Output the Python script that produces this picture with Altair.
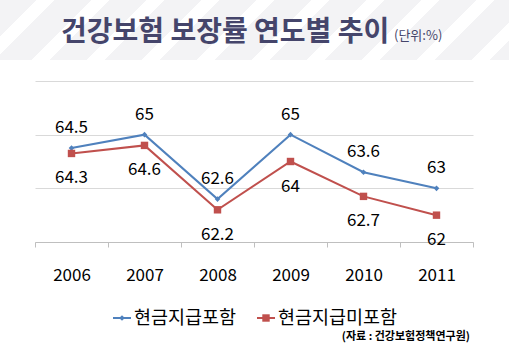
import altair as alt
import pandas as pd

years = ["2006", "2007", "2008", "2009", "2010", "2011"]
incl_cash = [64.5, 65, 62.6, 65, 63.6, 63]
excl_cash = [64.3, 64.6, 62.2, 64, 62.7, 62]
series_names = ["현금지급포함", "현금지급미포함"]
title_text = "건강보험 보장률 연도별 추이"
unit_text = "(단위:%)"
source_text = "(자료 : 건강보험정책연구원)"

FONT = "Noto Sans CJK KR"
BLUE = "#4f81bd"
RED = "#c0504d"

rows = []
for y, a, b in zip(years, incl_cash, excl_cash):
    rows.append({"year": y, "series": series_names[0], "value": a})
    rows.append({"year": y, "series": series_names[1], "value": b})
df = pd.DataFrame(rows)

W, H = 438, 161
PL, PT = 35, 81

x_enc = alt.X("year:N", sort=years, title=None,
              scale=alt.Scale(paddingInner=0, paddingOuter=0),
              axis=alt.Axis(labelAngle=0, labelFontSize=17, labelFont=FONT,
                            labelColor="#000000", labelPadding=20,
                            tickBand="extent", tickSize=5, tickColor="#bfbfbf",
                            domainColor="#bfbfbf", grid=False))
y_enc = alt.Y("value:Q", title=None,
              scale=alt.Scale(domain=[61, 67], nice=False, zero=False),
              axis=alt.Axis(values=[61, 63, 65, 67], labels=False, ticks=False,
                            domain=False, grid=True, gridColor="#d9d9d9"))
color_scale = alt.Scale(domain=series_names, range=[BLUE, RED])
shape_scale = alt.Scale(domain=series_names, range=["diamond", "square"])
size_scale = alt.Scale(domain=series_names, range=[32, 55])

base = alt.Chart(df)

lines = base.mark_line(strokeWidth=2).encode(
    x=x_enc, y=y_enc,
    color=alt.Color("series:N", scale=color_scale, legend=None),
)

points = base.mark_point(filled=True, opacity=1).encode(
    x=x_enc, y=y_enc,
    color=alt.Color("series:N", scale=color_scale, legend=None),
    shape=alt.Shape("series:N", scale=shape_scale, legend=None),
    size=alt.Size("series:N", scale=size_scale, legend=None),
)

lbl_top = base.transform_filter(alt.datum.series == series_names[0]).mark_text(
    fontSize=17, font=FONT, color="#000000", dy=-20, baseline="middle"
).encode(x=x_enc, y=y_enc, text=alt.Text("value:Q"))

lbl_bot = base.transform_filter(alt.datum.series == series_names[1]).mark_text(
    fontSize=17, font=FONT, color="#000000", dy=25, baseline="middle"
).encode(x=x_enc, y=y_enc, text=alt.Text("value:Q"))

# legend (built from the series names; layout offsets computed here)
leg_start = [113 - PL, 257 - PL]
leg_df = pd.DataFrame({
    "series": series_names,
    "x0": leg_start,
    "x1": [s + 18 for s in leg_start],
    "xm": [s + 9 for s in leg_start],
    "xt": [s + 21 for s in leg_start],
})
leg_y = alt.value(318 - PT)
leg_base = alt.Chart(leg_df)
leg_lines = leg_base.mark_rule(strokeWidth=2).encode(
    x=alt.X("x0:Q", scale=None), x2="x1:Q", y=leg_y,
    color=alt.Color("series:N", scale=color_scale, legend=None),
)
leg_pts = leg_base.mark_point(filled=True, opacity=1).encode(
    x=alt.X("xm:Q", scale=None), y=leg_y,
    color=alt.Color("series:N", scale=color_scale, legend=None),
    shape=alt.Shape("series:N", scale=shape_scale, legend=None),
    size=alt.Size("series:N", scale=size_scale, legend=None),
)
leg_txt = leg_base.mark_text(
    fontSize=18.5, font=FONT, color="#000000", align="left", baseline="middle"
).encode(x=alt.X("xt:Q", scale=None), y=leg_y, text="series:N")

# decorative striped title band
period = 55.0
span = 593.5
stops = []
o = 0.0
while o < 1.0:
    stops.append(alt.GradientStop(offset=min(o, 1), color="#f3f3f5"))
    stops.append(alt.GradientStop(offset=min(o + 37 / span, 1), color="#f3f3f5"))
    stops.append(alt.GradientStop(offset=min(o + 37 / span, 1), color="#ffffff"))
    stops.append(alt.GradientStop(offset=min(o + period / span, 1), color="#ffffff"))
    o += period / span

one = pd.DataFrame({"k": [0]})
band = alt.Chart(one).mark_rect(
    fill=alt.LinearGradient(gradient="linear", stops=stops,
                            x1=0, y1=0, x2=1.15, y2=0.1356)
).encode(x=alt.value(-PL), x2=alt.value(509 - PL), y=alt.value(-PT), y2=alt.value(60 - PT))

title = alt.Chart(one).mark_text(
    text=title_text, fontSize=28, fontWeight="bold", font=FONT, color="#45456b",
    align="left", baseline="middle"
).encode(x=alt.value(61 - PL), y=alt.value(33 - PT))

unit = alt.Chart(one).mark_text(
    text=unit_text, fontSize=13, font=FONT, color="#45456b",
    align="left", baseline="middle"
).encode(x=alt.value(394 - PL), y=alt.value(36 - PT))

source = alt.Chart(one).mark_text(
    text=source_text, fontSize=11, fontWeight="bold", font=FONT, color="#000000",
    align="right", baseline="middle"
).encode(x=alt.value(470 - PL), y=alt.value(337 - PT))

chart = alt.layer(band, title, unit, source, lines, points, lbl_top, lbl_bot,
                  leg_lines, leg_pts, leg_txt).properties(
    width=W, height=H,
    padding={"left": PL, "top": PT, "right": 509 - PL - W, "bottom": 351 - PT - H},
    autosize=alt.AutoSizeParams(type="none"),
    background="#ffffff",
).configure_view(stroke=None)

chart.save("out.html", embed_options={"renderer": "svg", "actions": False})
